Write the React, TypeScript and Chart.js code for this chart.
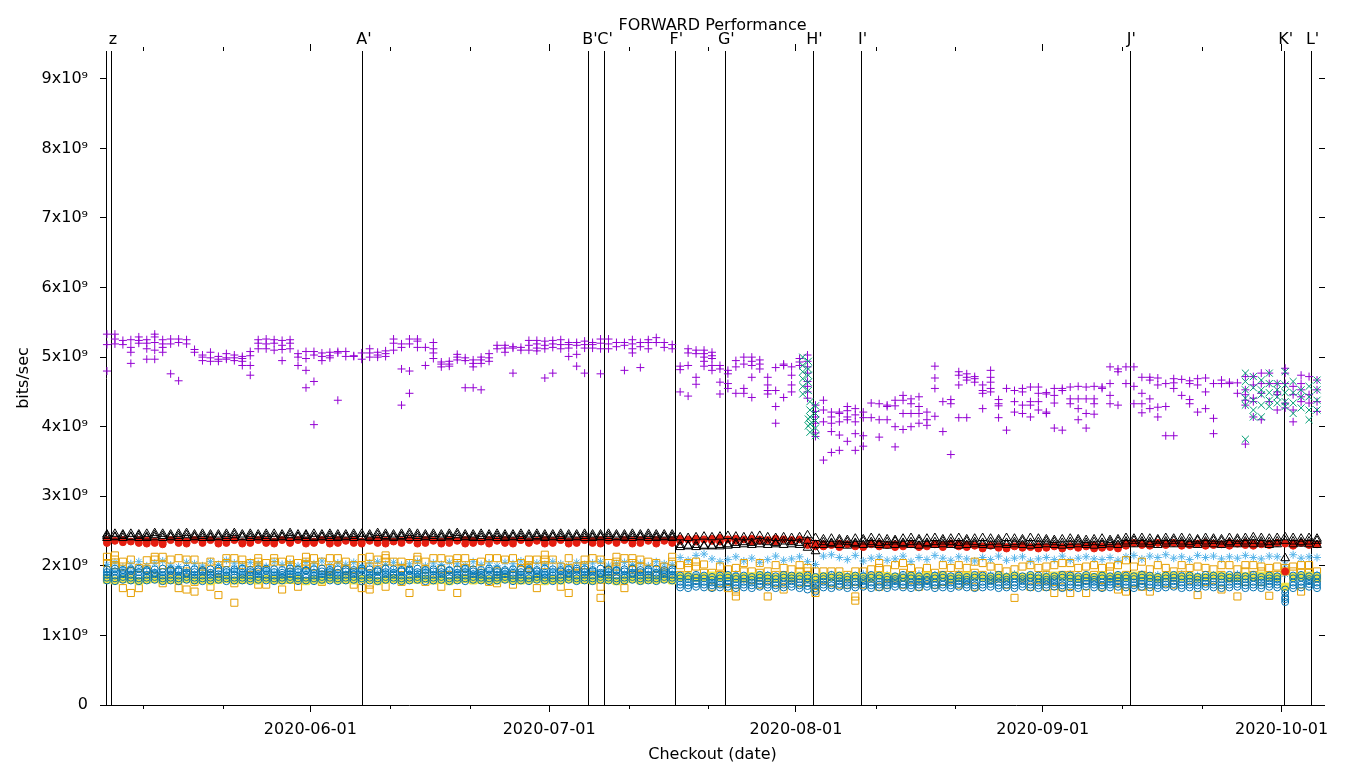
import React, { useEffect, useRef } from 'react';
import { Chart, registerables } from 'chart.js';

Chart.register(...registerables);

const FONT = '"DejaVu Sans", "Liberation Sans", sans-serif';
const TITLE = 'FORWARD Performance';
const X_TITLE = 'Checkout (date)';
const Y_TITLE = 'bits/sec';

// x values are days since 2020-05-01 00:00 UTC
const ORIGIN = Date.UTC(2020, 4, 1);
const dayOf = (iso: string) => (Date.parse(iso + 'Z') - ORIGIN) / 86400000;

const X_MIN = 5.33;
const X_MAX = 157.7;
const Y_MAX = 9.4; // units of 1e9 bits/sec
const FIRST_CHECKOUT = dayOf('2020-05-06T10:50:00'); // one checkout per day after this

const monthTicks = ['2020-06-01', '2020-07-01', '2020-08-01', '2020-09-01', '2020-10-01'];
const minorTicks = ['2020-05-11', '2020-05-21', '2020-06-11', '2020-06-21', '2020-07-11', '2020-07-21',
  '2020-08-11', '2020-08-21', '2020-09-11', '2020-09-21'];
const yTicks = [0, 1, 2, 3, 4, 5, 6, 7, 8, 9];

const eventLabels = ['z', "A'", "B'", "C'", "F'", "G'", "H'", "I'", "J'", "K'", "L'"];
const eventDates = ['2020-05-07T02:00:00', '2020-06-07T14:40:00', '2020-07-06T00:00:00', '2020-07-07T21:20:00',
  '2020-07-16T20:00:00', '2020-07-23T03:10:00', '2020-08-03T04:50:00', '2020-08-09T05:45:00',
  '2020-09-12T00:00:00', '2020-10-01T09:20:00', '2020-10-04T18:30:00'];

// purple "+" : per checkout day, several runs (x1e9 bits/sec)
const purpleRuns: number[][] = [
  [5.33,5.18,4.80],[5.33,5.26,5.19],[5.24,5.18],[5.25,5.14,5.07,4.91],[5.29,5.24,5.20],
  [5.25,5.20,5.12,4.97],[5.33,5.29,5.21,5.10,4.97],[5.25,5.19,5.14,5.07],[5.26,5.19,4.76],[5.26,5.21,4.66],
  [5.25,5.19],[5.11,5.07],[5.03,5.00,4.95],[5.07,4.99,4.94],[5.01,4.97,4.94],
  [5.05,4.99,4.97],[5.03,4.99,4.95],[5.01,4.98,4.94,4.88],[5.08,5.02,4.88,4.74],[5.25,5.20,5.12],
  [5.26,5.19,5.12],[5.25,5.20,5.10],[5.24,5.17,5.11,4.95],[5.25,5.20,5.12],[5.05,5.00,4.88],
  [5.08,4.98,4.81,4.56],[5.08,5.03,4.65,4.03],[5.06,5.01,4.95],[5.07,5.02,4.99],[5.08,5.06,4.38],
  [5.08,5.01],[5.02,5.01],[5.06,4.97],[5.12,5.06,5.00],[5.07,5.03,5.00],
  [5.09,5.05,5.01],[5.26,5.20,5.10],[5.19,5.14,4.83,4.31],[5.26,5.19,4.80,4.48],[5.26,5.23,5.14],
  [5.14,4.88],[5.21,5.12,5.06,4.98],[4.93,4.90,4.86],[4.94,4.90,4.87],[5.04,5.00,4.96],
  [4.99,4.95,4.56],[4.96,4.91,4.86,4.56],[5.00,4.96,4.91,4.53],[5.05,4.99,4.94],[5.17,5.12],
  [5.17,5.13,5.07],[5.15,5.13,4.77],[5.14,5.10],[5.24,5.17,5.10],[5.24,5.19,5.13,5.09],
  [5.23,5.17,5.12,4.70],[5.24,5.19,5.14,4.77],[5.25,5.18,5.12],[5.21,5.18,5.13,5.01],[5.21,5.17,5.04,4.87],
  [5.23,5.18,5.13,4.77],[5.21,5.18,5.13],[5.26,5.20,5.12,4.76],[5.26,5.19,5.12],[5.21,5.15],
  [5.21,5.17,4.81],[5.25,5.19,5.12,5.06],[5.21,5.15,4.85],[5.25,5.21,5.12],[5.28,5.21],
  [5.21,5.14],[5.18,5.12],[4.87,4.82,4.50],[5.12,5.06,4.88,4.44],[5.10,5.05,4.71,4.61],
  [5.10,5.05,5.00,4.94,4.87],[5.07,5.02,4.98,4.88,4.81],[4.88,4.83,4.64,4.47],[4.81,4.76,4.62,4.55],[4.95,4.86,4.48],
  [5.00,4.90,4.55,4.48],[5.00,4.94,4.88,4.71,4.42],[4.96,4.90,4.83],[4.71,4.60,4.52,4.47],[4.85,4.52,4.29,4.05],
  [4.90,4.88,4.42],[4.86,4.74,4.60,4.50],[4.98,4.93,4.88],[5.03,4.94,4.86,4.77,4.65,4.58,4.50,4.41],[4.31,4.22,4.14,4.05,3.91,3.86],
  [4.38,4.24,4.07,3.52],[4.21,4.14,4.05,3.93,3.63],[4.21,4.19,4.07,3.88,3.66],[4.29,4.23,4.14,4.10,3.79],[4.26,4.17,4.07,3.90,3.66],
  [4.21,4.13,3.87,3.72],[4.34,4.13],[4.33,4.10,3.85],[4.31,4.29,4.10],[4.38,4.30,4.00,3.71],
  [4.45,4.38,4.19,3.96],[4.40,4.33,4.19,4.00],[4.43,4.29,4.19,4.05],[4.21,4.10,4.02],[4.87,4.70,4.55,4.15],
  [4.36,3.93],[4.39,4.33,3.60],[4.79,4.74,4.60,4.13],[4.76,4.71,4.67,4.13],[4.72,4.69,4.64],
  [4.60,4.52,4.48,4.26],[4.81,4.71,4.64,4.55,4.50],[4.39,4.33,4.30,4.13],[4.55,3.95],[4.52,4.36,4.21],
  [4.55,4.50,4.31,4.19],[4.57,4.36,4.31,4.14],[4.57,4.48,4.36,4.24],[4.49,4.47,4.21,4.19],[4.55,4.45,4.34,3.98],
  [4.55,4.52,3.95],[4.57,4.40,4.33],[4.58,4.40,4.26,4.10],[4.57,4.40,4.19,3.98],[4.58,4.40,4.33,4.18],
  [4.57,4.55],[4.86,4.62,4.45,4.33],[4.83,4.79,4.31],[4.86,4.62],[4.86,4.58,4.33],
  [4.71,4.48,4.33,4.20],[4.71,4.67,4.40,4.26],[4.70,4.60,4.28,4.14],[4.62,4.29,3.87],[4.69,4.63,4.55,3.87],
  [4.68,4.45],[4.66,4.62,4.39,4.33],[4.69,4.60,4.21],[4.70,4.50,4.26],[4.62,4.12,3.90],
  [4.67,4.62],[4.64,4.62],[4.63,4.48],[4.72,4.53,4.46,4.38,4.31,3.75],[4.72,4.60,4.41,4.36,4.14],
  [4.77,4.62,4.48,4.10],[4.77,4.62,4.36],[4.62,4.50,4.46,4.24],[4.84,4.77,4.62,4.34,4.27],[4.58,4.46,4.24,4.07],
  [4.74,4.62,4.53,4.43,4.36],[4.72,4.46,4.34],[4.67,4.53,4.36,4.22],
];

// green "x": only on some checkouts (position in the checkout sequence; fractional = later the same day)
const greenDayIdx = [87.4, 88.1, 88.3, 89.0, 143, 144, 145, 146, 147, 148, 149, 150, 151, 152];
const greenRuns: number[][] = [
  [5.00,4.88,4.79,4.69,4.58,4.47],
  [4.94,4.83,4.74,4.64,4.52,4.11,4.01],
  [4.36,4.24,4.14,4.04,3.92],
  [4.30,4.19,4.09,3.98,3.87],
  [4.77,4.65,4.53,4.41,4.31,3.82],[4.72,4.56,4.38,4.24,4.14],[4.67,4.53,4.46,4.31,4.14],
  [4.77,4.62,4.49,4.38,4.29],[4.62,4.53,4.43,4.34],[4.79,4.60,4.49,4.36,4.29],
  [4.65,4.49,4.34,4.19],[4.53,4.43,4.27],[4.58,4.43,4.24,4.10],[4.67,4.53,4.38,4.24],
];

// orange open squares, per checkout day
const orangeRuns: number[][] = [
  [2.13,2.04,1.82],[2.15,2.09,2.01],[2.06,1.99,1.68],[2.09,1.92,1.61],[1.97,1.68],
  [2.08,1.95],[2.13,2.09,1.85],[2.13,2.01,1.75],[2.09,1.92,1.80],[2.11,1.68],
  [2.09,1.92,1.66],[2.09,1.77,1.63],[1.99,1.92],[2.06,1.87,1.70],[2.01,1.82,1.58],
  [2.11,2.04],[2.11,1.75,1.47],[2.09,2.01,1.80],[2.04,1.87],[2.11,2.06,1.99,1.73],
  [2.04,1.73],[2.11,2.06,1.80],[2.06,1.66],[2.09,2.01,1.80],[2.04,1.70],
  [2.13,2.06,2.01],[2.11,1.99],[2.06,1.87,1.77],[2.11,1.97,1.85],[2.11,1.99],
  [2.06,1.95,1.82],[2.01,1.85,1.73],[2.11,2.01,1.68],[2.13,1.99,1.73,1.66],[2.09,1.95],
  [2.15,2.11,2.06,1.70],[2.06,1.82],[2.06,1.97,1.77],[2.04,1.61],[2.13,2.09],
  [2.06,1.95,1.77],[2.11,1.80],[2.11,1.95,1.70],[2.09,1.87],[2.11,2.04,1.61],
  [2.11,1.97,1.82],[2.04,1.80],[2.06,1.90],[2.11,1.77],[2.11,1.92,1.75],
  [2.09,1.82],[2.11,1.87,1.73],[2.04,1.97],[2.09,2.01,1.97],[2.09,1.68],
  [2.16,2.09,2.01],[2.09,1.80],[1.99,1.82,1.70],[2.11,1.97,1.61],[1.99,1.90],
  [2.09,2.01,1.80],[2.11,1.87],[2.09,1.70,1.54],[2.04,1.92],[2.13,2.06,1.99,1.82],
  [2.11,1.68],[2.11,2.04,1.95],[2.09,1.99,1.87],[2.06,1.82],[2.04,1.87],
  [1.99,1.92],[2.13,2.06,1.80],[2.01,1.87],[2.04,1.97],[2.06,1.99],
  [2.02,1.90],[1.90,1.70],[1.99,1.87,1.75],[1.95,1.77,1.68],[1.97,1.63,1.56],
  [2.04,1.92,1.82],[1.92,1.80],[2.04,1.90,1.73],[1.92,1.80,1.56],[2.01,1.87,1.75],
  [1.97,1.80,1.66],[1.95,1.82],[2.01,1.92,1.75],[1.97,1.92,1.87,1.82,1.77],[1.92,1.82,1.73,1.66,1.61],
  [1.92,1.80],[1.92,1.75],[1.92,1.73],[1.87,1.73],[1.92,1.77,1.56,1.50],
  [1.92,1.73],[1.95,1.82],[2.04,1.97,1.70],[1.95,1.82,1.73],[2.01,1.82],
  [2.04,1.90,1.73],[1.97,1.80],[1.92,1.70],[1.97,1.82],[1.90,1.73],
  [2.01,1.87,1.77],[1.97,1.80],[2.01,1.87,1.73],[1.97,1.80],[2.06,1.90,1.70],
  [2.04,1.87],[1.99,1.80],[1.97,1.82],[1.92,1.73],[1.95,1.54],
  [1.99,1.82],[2.01,1.70],[1.97,1.80],[1.99,1.87,1.70],[2.01,1.77,1.61],
  [2.04,1.87,1.70],[2.04,1.87,1.61],[1.97,1.77],[1.99,1.80,1.61],[2.01,1.87],
  [1.97,1.80,1.70],[1.99,1.92],[2.01,1.82,1.66],[2.08,1.87,1.63],[1.99,1.75],
  [2.06,1.87,1.70],[1.95,1.63],[2.01,1.82],[1.97,1.75],[1.92,1.73],
  [2.01,1.87],[1.97,1.80],[1.99,1.58],[1.97,1.77],[1.95,1.80],
  [2.01,1.87,1.66],[2.01,1.82],[1.95,1.56],[2.01,1.92,1.77],[2.01,1.87],
  [1.99,1.92,1.77],[1.97,1.85,1.57],[1.99,1.87],[1.97,1.92],[1.99,1.92],
  [2.01,1.90,1.63],[2.01,1.90],[1.92,1.82],
];

// black open triangles, three runs per day
const triA = [
  2.45,2.46,2.45,2.46,2.45,2.46,2.47,2.46,2.45,2.46, 2.47,2.45,2.46,2.45,2.45,2.46,2.47,2.45,2.46,2.45,
  2.46,2.46,2.45,2.47,2.45,2.45,2.46,2.45,2.46,2.45, 2.45,2.46,2.46,2.45,2.47,2.46,2.45,2.46,2.47,2.46,
  2.45,2.46,2.45,2.46,2.47,2.45,2.45,2.46,2.45,2.46, 2.45,2.45,2.46,2.45,2.46,2.45,2.45,2.46,2.45,2.45,
  2.46,2.45,2.45,2.46,2.45,2.45,2.46,2.45,2.46,2.45, 2.45,2.45,
  2.41,2.40,2.41,2.42,2.41,2.42,2.43,2.42,2.41,2.42,2.43,2.41,2.40,2.41,2.40,2.41,
  2.44,2.40,
  2.38,2.39,2.38,2.37,2.39,2.38,2.40,2.39,2.38,2.37, 2.39,2.40,2.38,2.39,2.40,2.38,2.39,2.40,2.38,2.39,
  2.40,2.39,2.38,2.40,2.39,2.38,2.40,2.39,2.38,2.37, 2.38,2.39,2.38,2.37,2.38,2.39,2.37,2.38,
  2.40,2.39,2.40,2.39,2.38,2.40,2.39,2.40,2.39,2.38, 2.40,2.39,2.38,2.40,2.39,2.40,2.41,2.40,2.39,2.40,
  2.41,2.40,2.39,2.40,2.39,
];
const triB = [
  2.43,2.42,2.43,2.42,2.43,2.42,2.44,2.43,2.42,2.43, 2.44,2.42,2.43,2.42,2.42,2.43,2.44,2.42,2.43,2.42,
  2.43,2.42,2.42,2.44,2.42,2.43,2.42,2.42,2.43,2.42, 2.42,2.43,2.42,2.42,2.44,2.43,2.42,2.43,2.44,2.43,
  2.42,2.43,2.42,2.43,2.44,2.42,2.42,2.43,2.42,2.43, 2.42,2.42,2.43,2.42,2.43,2.42,2.42,2.43,2.42,2.42,
  2.43,2.42,2.42,2.43,2.42,2.42,2.43,2.42,2.43,2.42, 2.42,2.42,
  2.30,2.29,2.30,2.29,2.28,2.30,2.31,2.33,2.34,2.33,2.35,2.34,2.33,2.35,2.34,2.33,
  2.36,2.30,
  2.34,2.33,2.35,2.34,2.33,2.35,2.34,2.33,2.34,2.35, 2.33,2.34,2.35,2.33,2.34,2.35,2.34,2.33,2.35,2.34,
  2.33,2.34,2.35,2.33,2.34,2.35,2.33,2.34,2.35,2.34, 2.33,2.34,2.35,2.33,2.34,2.33,2.34,2.35,
  2.35,2.36,2.35,2.34,2.36,2.35,2.36,2.35,2.34,2.36, 2.35,2.36,2.35,2.34,2.36,2.35,2.36,2.35,2.34,2.35,
  2.36,2.35,2.34,2.35,2.36,
];
const triC = [
  2.40,2.41,2.40,2.41,2.40,2.40,2.41,2.40,2.41,2.40, 2.40,2.41,2.40,2.40,2.41,2.40,2.40,2.41,2.40,2.41,
  2.40,2.40,2.41,2.40,2.41,2.40,2.40,2.41,2.40,2.40, 2.41,2.40,2.41,2.40,2.40,2.41,2.40,2.41,2.40,2.40,
  2.41,2.40,2.40,2.41,2.40,2.41,2.40,2.40,2.41,2.40, 2.40,2.41,2.40,2.40,2.41,2.40,2.41,2.40,2.40,2.41,
  2.40,2.40,2.41,2.40,2.41,2.40,2.40,2.41,2.40,2.40, 2.41,2.40,
  2.27,2.28,2.27,2.28,2.29,2.28,2.29,2.30,2.31,2.30,2.31,2.30,2.31,2.30,2.31,2.30,
  2.26,2.21,
  2.30,2.31,2.30,2.29,2.31,2.30,2.31,2.30,2.29,2.30, 2.31,2.30,2.29,2.31,2.30,2.31,2.30,2.29,2.30,2.31,
  2.30,2.29,2.31,2.30,2.31,2.30,2.29,2.30,2.31,2.30, 2.29,2.30,2.31,2.30,2.29,2.30,2.31,2.30,
  2.32,2.31,2.32,2.31,2.30,2.32,2.31,2.32,2.31,2.30, 2.32,2.31,2.30,2.32,2.31,2.32,2.31,2.32,2.30,2.31,
  2.11,2.31,2.32,2.31,2.30,
];

// red filled circles, two runs per day (null = no run)
const redA = [
  2.37,2.36,2.37,2.35,2.37,2.36,2.35,2.34,2.37,2.36, 2.35,2.37,2.36,2.37,2.35,2.36,2.37,2.34,2.36,2.37,
  2.36,2.35,2.37,2.36,2.37,2.36,2.35,2.37,2.36,2.37, 2.36,2.37,2.35,2.36,2.37,2.36,2.35,2.36,2.37,2.36,
  2.37,2.36,2.35,2.37,2.36,2.37,2.36,2.35,2.37,2.36, 2.37,2.36,2.37,2.35,2.36,2.37,2.36,2.37,2.35,2.36,
  2.37,2.36,2.37,2.36,2.35,2.37,2.36,2.37,2.36,2.37, 2.36,2.37,
  2.39,2.38,2.39,2.38,2.39,2.40,2.38,2.39,2.38,2.39,2.38,2.37,2.39,2.38,2.37,2.38,
  2.36,2.32,
  2.31,2.30,2.32,2.31,2.30,2.29,2.31,2.32,2.30,2.31, 2.30,2.31,2.29,2.30,2.31,2.30,2.32,2.31,2.30,2.29,
  2.28,2.29,2.28,2.27,2.28,2.29,2.27,2.28,2.27,2.28, 2.27,2.28,2.27,2.28,2.29,2.28,2.27,2.28,
  2.32,2.33,2.32,2.31,2.33,2.32,2.33,2.32,2.31,2.32, 2.33,2.32,2.31,2.33,2.32,2.33,2.32,2.31,2.32,2.33,
  1.92,2.32,2.33,2.32,2.31,
];
const redB = [
  2.33,null,2.34,null,2.33,2.32,2.33,2.31,null,2.33, 2.32,null,2.33,null,2.32,2.33,null,2.32,2.33,null,
  2.33,2.32,null,2.33,null,2.32,2.33,null,2.32,2.33, null,2.33,2.32,null,2.33,2.32,null,2.33,null,2.32,
  2.33,null,2.32,2.33,null,2.32,2.33,null,2.32,null, 2.33,2.32,null,2.33,null,2.32,2.33,null,2.32,2.33,
  null,2.33,2.32,null,2.33,null,2.32,2.33,null,2.32, null,2.33,
  2.36,null,2.35,null,2.36,2.35,null,2.36,null,2.35,2.36,null,2.35,null,2.36,null,
  2.30,2.28,
  2.28,null,2.27,null,2.28,2.27,null,2.28,null,2.27, 2.28,null,2.27,2.28,null,2.27,null,2.28,2.27,null,
  2.25,null,2.26,2.25,null,2.26,null,2.25,2.26,null, 2.25,null,2.26,null,2.25,2.26,null,2.25,
  2.29,null,2.30,2.29,null,2.30,null,2.29,2.30,null, 2.29,2.30,null,2.29,null,2.30,2.29,null,2.30,null,
  2.32,2.29,null,2.30,null,
];

// light-blue asterisks, two runs per day
const skyA = [
  2.02,2.05,1.98,2.03,2.06,2.00,2.04,2.07,2.01,1.99, 2.05,2.03,2.00,2.06,2.02,2.08,2.04,2.01,2.05,2.03,
  1.99,2.06,2.02,2.04,2.00,2.05,2.03,2.07,2.01,2.04, 2.02,2.05,2.00,2.04,2.06,2.02,2.05,2.01,2.03,2.06,
  2.00,2.04,2.02,2.05,2.03,2.01,2.06,2.02,2.04,2.00, 2.05,2.03,2.07,2.01,2.04,2.02,2.06,2.03,2.00,2.05,
  2.02,2.04,2.06,2.01,2.03,2.05,2.02,2.04,2.00,2.06, 2.03,2.02,
  2.12,2.08,2.15,2.17,2.10,2.06,2.09,2.13,2.07,2.11,2.05,2.09,2.14,2.08,2.10,2.13,
  2.06,2.02,
  2.14,2.16,2.12,2.09,2.15,2.07,2.11,2.13,2.08,2.10, 2.14,2.06,2.12,2.09,2.15,2.11,2.08,2.13,2.10,2.07,
  2.12,2.09,2.14,2.08,2.11,2.13,2.07,2.10,2.12,2.09, 2.14,2.08,2.11,2.13,2.10,2.09,2.12,2.08,
  2.13,2.15,2.10,2.14,2.12,2.16,2.11,2.13,2.09,2.15, 2.12,2.14,2.10,2.13,2.11,2.15,2.12,2.10,2.14,2.13,
  2.02,2.16,2.11,2.13,2.12,
];
const skyB = [
  1.90,1.93,1.88,1.92,1.95,1.89,1.91,1.87,1.94,1.90, 1.92,1.88,1.93,1.90,1.86,1.91,1.94,1.89,1.92,1.88,
  1.93,1.90,1.87,1.92,1.89,1.94,1.91,1.88,1.93,1.90, 1.89,1.92,1.94,1.88,1.91,1.90,1.93,1.87,1.92,1.89,
  1.94,1.90,1.88,1.92,1.91,1.93,1.89,1.90,1.92,1.88, 1.91,1.94,1.89,1.92,1.90,1.88,1.93,1.91,1.89,1.92,
  1.90,1.93,1.88,1.91,1.94,1.89,1.92,1.90,1.88,1.93, 1.91,1.89,
  1.85,1.82,1.87,1.84,1.80,1.86,1.83,1.88,1.81,1.85,1.84,1.87,1.82,1.86,1.83,1.85,
  1.80,1.72,
  1.84,1.87,1.82,1.86,1.83,1.88,1.81,1.85,1.87,1.83, 1.86,1.82,1.88,1.84,1.87,1.83,1.85,1.88,1.82,1.86,
  1.84,1.87,1.83,1.85,1.88,1.82,1.86,1.84,1.87,1.83, 1.85,1.88,1.82,1.86,1.84,1.87,1.83,1.85,
  1.86,1.84,1.88,1.83,1.87,1.85,1.82,1.88,1.84,1.86, 1.83,1.87,1.85,1.82,1.88,1.84,1.86,1.83,1.87,1.85,
  1.88,1.84,1.86,1.83,1.87,
];

// yellow filled squares, one run per day
const yellowA = [
  1.80,1.79,1.81,1.80,1.78,1.80,1.81,1.79,1.80,1.80, 1.81,1.79,1.80,1.78,1.80,1.81,1.79,1.80,1.80,1.79,
  1.81,1.80,1.79,1.80,1.81,1.78,1.80,1.79,1.81,1.80, 1.80,1.79,1.81,1.80,1.78,1.80,1.81,1.79,1.80,1.80,
  1.81,1.79,1.80,1.78,1.80,1.81,1.79,1.80,1.80,1.79, 1.81,1.80,1.79,1.80,1.81,1.78,1.80,1.79,1.81,1.80,
  1.80,1.79,1.81,1.80,1.78,1.80,1.81,1.79,1.80,1.80, 1.81,1.79,
  1.84,1.85,1.83,1.84,1.86,1.84,1.85,1.83,1.84,1.85,1.86,1.84,1.83,1.85,1.84,1.86,
  1.84,1.83,
  1.85,1.84,1.86,1.84,1.85,1.83,1.84,1.86,1.85,1.84, 1.83,1.85,1.84,1.86,1.84,1.85,1.83,1.84,1.86,1.85,
  1.84,1.83,1.85,1.84,1.86,1.84,1.85,1.83,1.84,1.86, 1.85,1.84,1.83,1.85,1.84,1.86,1.84,1.85,
  1.84,1.86,1.85,1.84,1.83,1.85,1.86,1.84,1.85,1.83, 1.84,1.86,1.85,1.84,1.83,1.85,1.84,1.86,1.85,1.84,
  1.70,1.84,1.85,1.86,1.84,
];

// blue open circles, five runs per day
const blueE = [
  1.95,1.96,1.94,1.95,1.96,1.94,1.95,1.96,1.95,1.94, 1.96,1.95,1.94,1.95,1.96,1.94,1.95,1.96,1.94,1.95,
  1.96,1.95,1.94,1.96,1.95,1.94,1.95,1.96,1.94,1.95, 1.95,1.94,1.96,1.95,1.94,1.96,1.95,1.94,1.95,1.96,
  1.94,1.95,1.96,1.94,1.95,1.96,1.95,1.94,1.96,1.95, 1.94,1.95,1.96,1.95,1.94,1.96,1.95,1.94,1.95,1.96,
  1.95,1.94,1.96,1.95,1.94,1.95,1.96,1.94,1.95,1.96, 1.94,1.95,
  1.86,1.85,1.87,1.86,1.84,1.86,1.87,1.85,1.86,1.84,1.87,1.86,1.85,1.87,1.86,1.85,
  1.86,1.84,
  1.85,1.87,1.86,1.84,1.86,1.85,1.87,1.86,1.84,1.85, 1.87,1.86,1.85,1.84,1.86,1.87,1.85,1.86,1.84,1.87,
  1.86,1.85,1.87,1.84,1.86,1.85,1.87,1.86,1.84,1.85, 1.87,1.86,1.85,1.87,1.84,1.86,1.85,1.87,
  1.86,1.85,1.87,1.86,1.84,1.86,1.87,1.85,1.86,1.84, 1.87,1.86,1.85,1.87,1.86,1.85,1.87,1.84,1.86,1.85,
  1.66,1.86,1.87,1.85,1.86,
];
const blueA = [
  1.91,1.92,1.90,1.93,1.91,1.92,1.90,1.91,1.93,1.92, 1.90,1.91,1.92,1.90,1.93,1.91,1.92,1.90,1.91,1.92,
  1.93,1.91,1.90,1.92,1.91,1.93,1.90,1.92,1.91,1.90, 1.92,1.91,1.93,1.90,1.92,1.91,1.90,1.92,1.93,1.91,
  1.90,1.92,1.91,1.93,1.90,1.91,1.92,1.90,1.93,1.91, 1.92,1.90,1.91,1.93,1.92,1.90,1.91,1.92,1.90,1.93,
  1.91,1.92,1.90,1.91,1.93,1.92,1.90,1.91,1.92,1.90, 1.91,1.92,
  1.82,1.81,1.83,1.82,1.80,1.82,1.83,1.81,1.82,1.80,1.83,1.82,1.81,1.83,1.82,1.81,
  1.82,1.80,
  1.81,1.83,1.82,1.80,1.82,1.81,1.83,1.82,1.80,1.81, 1.83,1.82,1.81,1.80,1.82,1.83,1.81,1.82,1.80,1.83,
  1.82,1.81,1.83,1.80,1.82,1.81,1.83,1.82,1.80,1.81, 1.83,1.82,1.81,1.83,1.80,1.82,1.81,1.83,
  1.82,1.81,1.83,1.82,1.80,1.82,1.83,1.81,1.82,1.80, 1.83,1.82,1.81,1.83,1.82,1.81,1.83,1.80,1.82,1.81,
  1.61,1.82,1.83,1.81,1.82,
];
const blueB = [
  1.87,1.86,1.88,1.87,1.86,1.87,1.88,1.86,1.87,1.86, 1.88,1.87,1.86,1.87,1.88,1.86,1.87,1.87,1.86,1.88,
  1.87,1.86,1.87,1.88,1.86,1.87,1.86,1.88,1.87,1.86, 1.87,1.88,1.86,1.87,1.86,1.88,1.87,1.86,1.87,1.88,
  1.86,1.87,1.88,1.86,1.87,1.86,1.88,1.87,1.86,1.87, 1.88,1.86,1.87,1.86,1.88,1.87,1.86,1.87,1.88,1.86,
  1.87,1.86,1.88,1.87,1.86,1.87,1.88,1.86,1.87,1.86, 1.88,1.87,
  1.77,1.76,1.78,1.77,1.76,1.77,1.78,1.76,1.77,1.76,1.78,1.77,1.76,1.77,1.78,1.76,
  1.76,1.74,
  1.77,1.76,1.78,1.76,1.77,1.78,1.76,1.77,1.76,1.78, 1.77,1.76,1.77,1.78,1.76,1.77,1.76,1.78,1.77,1.76,
  1.77,1.78,1.76,1.77,1.76,1.78,1.77,1.76,1.77,1.78, 1.76,1.77,1.76,1.78,1.77,1.76,1.77,1.78,
  1.77,1.76,1.78,1.77,1.76,1.77,1.78,1.76,1.77,1.76, 1.78,1.77,1.76,1.77,1.78,1.76,1.77,1.76,1.78,1.77,
  1.55,1.76,1.77,1.78,1.76,
];
const blueC = [
  1.83,1.82,1.84,1.83,1.82,1.83,1.84,1.82,1.83,1.82, 1.84,1.83,1.82,1.83,1.84,1.82,1.83,1.83,1.82,1.84,
  1.83,1.82,1.83,1.84,1.82,1.83,1.82,1.84,1.83,1.82, 1.83,1.84,1.82,1.83,1.82,1.84,1.83,1.82,1.83,1.84,
  1.82,1.83,1.84,1.82,1.83,1.82,1.84,1.83,1.82,1.83, 1.84,1.82,1.83,1.82,1.84,1.83,1.82,1.83,1.84,1.82,
  1.83,1.82,1.84,1.83,1.82,1.83,1.84,1.82,1.83,1.82, 1.84,1.83,
  1.73,1.72,1.74,1.73,1.72,1.73,1.74,1.72,1.73,1.72,1.74,1.73,1.72,1.73,1.74,1.72,
  1.71,1.68,
  1.73,1.72,1.74,1.72,1.73,1.74,1.72,1.73,1.72,1.74, 1.73,1.72,1.73,1.74,1.72,1.73,1.72,1.74,1.73,1.72,
  1.73,1.74,1.72,1.73,1.72,1.74,1.73,1.72,1.73,1.74, 1.72,1.73,1.72,1.74,1.73,1.72,1.73,1.74,
  1.73,1.72,1.74,1.73,1.72,1.73,1.74,1.72,1.73,1.72, 1.74,1.73,1.72,1.73,1.74,1.72,1.73,1.72,1.74,1.73,
  1.48,1.72,1.73,1.74,1.72,
];
const blueD = [
  1.79,1.78,1.80,1.79,1.78,1.79,1.80,1.78,1.79,1.78, 1.80,1.79,1.78,1.79,1.80,1.78,1.79,1.79,1.78,1.80,
  1.79,1.78,1.79,1.80,1.78,1.79,1.78,1.80,1.79,1.78, 1.79,1.80,1.78,1.79,1.78,1.80,1.79,1.78,1.79,1.80,
  1.78,1.79,1.80,1.78,1.79,1.78,1.80,1.79,1.78,1.79, 1.80,1.78,1.79,1.78,1.80,1.79,1.78,1.79,1.80,1.78,
  1.79,1.78,1.80,1.79,1.78,1.79,1.80,1.78,1.79,1.78, 1.80,1.79,
  1.69,1.68,1.70,1.69,1.68,1.69,1.70,1.68,1.69,1.68,1.70,1.69,1.68,1.69,1.70,1.68,
  1.66,1.63,
  1.69,1.68,1.70,1.68,1.69,1.70,1.68,1.69,1.68,1.70, 1.69,1.68,1.69,1.70,1.68,1.69,1.68,1.70,1.69,1.68,
  1.69,1.70,1.68,1.69,1.68,1.70,1.69,1.68,1.69,1.70, 1.68,1.69,1.68,1.70,1.69,1.68,1.69,1.70,
  1.69,1.68,1.70,1.69,1.68,1.69,1.70,1.68,1.69,1.68, 1.70,1.69,1.68,1.69,1.70,1.68,1.69,1.68,1.70,1.69,
  1.52,1.68,1.69,1.70,1.68,
];

type P = { x: number; y: number };
const fromDayLists = (runs: number[][], idx?: number[]): P[] =>
  runs.flatMap((vals, k) => vals.map((v) => ({ x: FIRST_CHECKOUT + (idx ? idx[k] : k), y: v })));
const fromRun = (run: (number | null)[]): P[] =>
  run.flatMap((v, k) => (v === null ? [] : [{ x: FIRST_CHECKOUT + k, y: v }]));

const pointSet = (label: string, data: P[], style: string, color: string, radius: number, filled: boolean) => ({
  label,
  data,
  pointStyle: style,
  pointRadius: radius,
  pointBorderWidth: 1,
  borderWidth: 1,
  borderColor: color,
  pointBorderColor: color,
  backgroundColor: filled ? color : 'rgba(0,0,0,0)',
  pointBackgroundColor: filled ? color : 'rgba(0,0,0,0)',
  showLine: false,
  clip: false as const,
});

const decorPlugin = {
  id: 'gnuplotDecor',
  // snap the 1px vertical event lines onto the pixel grid so they stay crisp black
  beforeDatasetDraw(chart: any, args: any) {
    const ds = chart.data.datasets[args.index];
    if (!ds || !ds.isEventLine) return;
    const px = chart.scales.x.getPixelForValue(ds.data[0].x);
    chart.ctx.save();
    chart.ctx.translate(Math.round(px - 0.5) + 0.5 - px, 0);
  },
  afterDatasetDraw(chart: any, args: any) {
    const ds = chart.data.datasets[args.index];
    if (!ds || !ds.isEventLine) return;
    chart.ctx.restore();
  },
  afterDraw(chart: any) {
    const { ctx, chartArea, scales } = chart;
    const xs = scales.x;
    ctx.save();
    ctx.strokeStyle = '#000';
    ctx.lineWidth = 1;
    ctx.beginPath();
    for (const iso of minorTicks) {
      const px = Math.round(xs.getPixelForValue(dayOf(iso + 'T00:00:00'))) + 0.5;
      ctx.moveTo(px, chartArea.bottom);
      ctx.lineTo(px, chartArea.bottom + 4);
      ctx.moveTo(px, chartArea.top);
      ctx.lineTo(px, chartArea.top - 4);
    }
    ctx.stroke();
    ctx.fillStyle = '#000';
    ctx.font = `16px ${FONT}`;
    ctx.textAlign = 'center';
    ctx.textBaseline = 'alphabetic';
    ctx.fillText(TITLE, (chartArea.left + chartArea.right) / 2, 30);
    eventLabels.forEach((lab, k) => {
      ctx.fillText(lab, xs.getPixelForValue(dayOf(eventDates[k])) + 1, 44);
    });
    ctx.restore();
  },
};

export default function App() {
  const ref = useRef<HTMLCanvasElement | null>(null);

  useEffect(() => {
    if (!ref.current) return;
    const majorDays = monthTicks.map((m) => dayOf(m + 'T00:00:00'));
    const font = { family: FONT, size: 16 };

    const eventLineSets = eventDates.map((iso, k) => ({
      label: eventLabels[k],
      isEventLine: true,
      data: [{ x: dayOf(iso), y: 0 }, { x: dayOf(iso), y: Y_MAX }],
      showLine: true,
      borderColor: '#000',
      borderWidth: 1,
      pointRadius: 0,
      clip: false as const,
    }));

    const datasets: any[] = [
      pointSet('black triangles A', fromRun(triA), 'triangle', '#000000', 5, false),
      pointSet('black triangles B', fromRun(triB), 'triangle', '#000000', 5, false),
      pointSet('black triangles C', fromRun(triC), 'triangle', '#000000', 5, false),
      pointSet('red A', fromRun(redA), 'circle', '#e51e10', 3.5, true),
      pointSet('red B', fromRun(redB), 'circle', '#e51e10', 3.5, true),
      pointSet('blue E', fromRun(blueE), 'circle', '#0072b2', 3.5, false),
      pointSet('blue A', fromRun(blueA), 'circle', '#0072b2', 3.5, false),
      pointSet('blue B', fromRun(blueB), 'circle', '#0072b2', 3.5, false),
      pointSet('blue C', fromRun(blueC), 'circle', '#0072b2', 3.5, false),
      pointSet('blue D', fromRun(blueD), 'circle', '#0072b2', 3.5, false),
      pointSet('yellow', fromRun(yellowA), 'rect', '#f0e442', 5, true),
      pointSet('orange', fromDayLists(orangeRuns), 'rect', '#e69f00', 5, false),
      pointSet('sky A', fromRun(skyA), 'star', '#56b4e9', 4, false),
      pointSet('sky B', fromRun(skyB), 'star', '#56b4e9', 4, false),
      pointSet('green', fromDayLists(greenRuns, greenDayIdx), 'crossRot', '#009e73', 5, false),
      pointSet('purple', fromDayLists(purpleRuns), 'cross', '#9400d3', 4, false),
      ...eventLineSets,
    ];

    const xTicksCommon = {
      afterBuildTicks: (s: any) => { s.ticks = majorDays.map((v) => ({ value: v })); },
    };

    const chart = new Chart(ref.current, {
      type: 'scatter',
      data: { datasets },
      options: {
        animation: false,
        responsive: false,
        maintainAspectRatio: false,
        devicePixelRatio: 1,
        events: [],
        layout: { padding: 0 },
        plugins: { legend: { display: false }, tooltip: { enabled: false }, title: { display: false } },
        scales: {
          x: {
            type: 'linear', position: 'bottom', min: X_MIN, max: X_MAX, display: true,
            ...xTicksCommon,
            afterFit: (s: any) => { s.height = 63; },
            ticks: {
              autoSkip: false, maxRotation: 0, minRotation: 0, padding: 8, color: '#000', font,
              callback: (v: any) => { const k = majorDays.indexOf(v); return k >= 0 ? monthTicks[k] : ''; },
            },
            grid: { display: true, drawOnChartArea: false, drawTicks: true, tickLength: 7, color: '#000', lineWidth: 1 },
            border: { display: true, color: '#000', width: 1 },
            title: { display: true, text: X_TITLE, color: '#000', font, padding: { top: 0, bottom: 4 } },
          },
          xTop: {
            type: 'linear', position: 'top', min: X_MIN, max: X_MAX, display: true,
            ...xTicksCommon,
            afterFit: (s: any) => { s.height = 51; },
            ticks: { display: false },
            grid: { display: true, drawOnChartArea: false, drawTicks: true, tickLength: 7, color: '#000', lineWidth: 1 },
            border: { display: false },
          },
          y: {
            type: 'linear', position: 'left', min: 0, max: Y_MAX, display: true,
            afterBuildTicks: (s: any) => { s.ticks = yTicks.map((v) => ({ value: v })); },
            afterFit: (s: any) => { s.width = 106; },
            ticks: {
              padding: 12, color: '#000', font,
              callback: (v: any) => (v === 0 ? '0' : `${v}x10⁹`),
            },
            grid: { display: true, drawOnChartArea: false, drawTicks: true, tickLength: 6, color: '#000', lineWidth: 1 },
            border: { display: true, color: '#000', width: 1 },
            title: { display: true, text: Y_TITLE, color: '#000', font, padding: { top: 14, bottom: 0 } },
          },
          yRight: {
            type: 'linear', position: 'right', min: 0, max: Y_MAX, display: true,
            afterBuildTicks: (s: any) => { s.ticks = yTicks.map((v) => ({ value: v })); },
            afterFit: (s: any) => { s.width = 41; },
            ticks: { display: false },
            grid: { display: true, drawOnChartArea: false, drawTicks: true, tickLength: 6, color: '#000', lineWidth: 1 },
            border: { display: false },
          },
        },
      } as any,
      plugins: [decorPlugin],
    });
    return () => chart.destroy();
  }, []);

  return (
    <div style={{ position: 'fixed', left: 0, top: 0, width: 1360, height: 768, background: '#fff' }}>
      <canvas ref={ref} width={1360} height={768} style={{ display: 'block', width: 1360, height: 768 }} />
    </div>
  );
}
